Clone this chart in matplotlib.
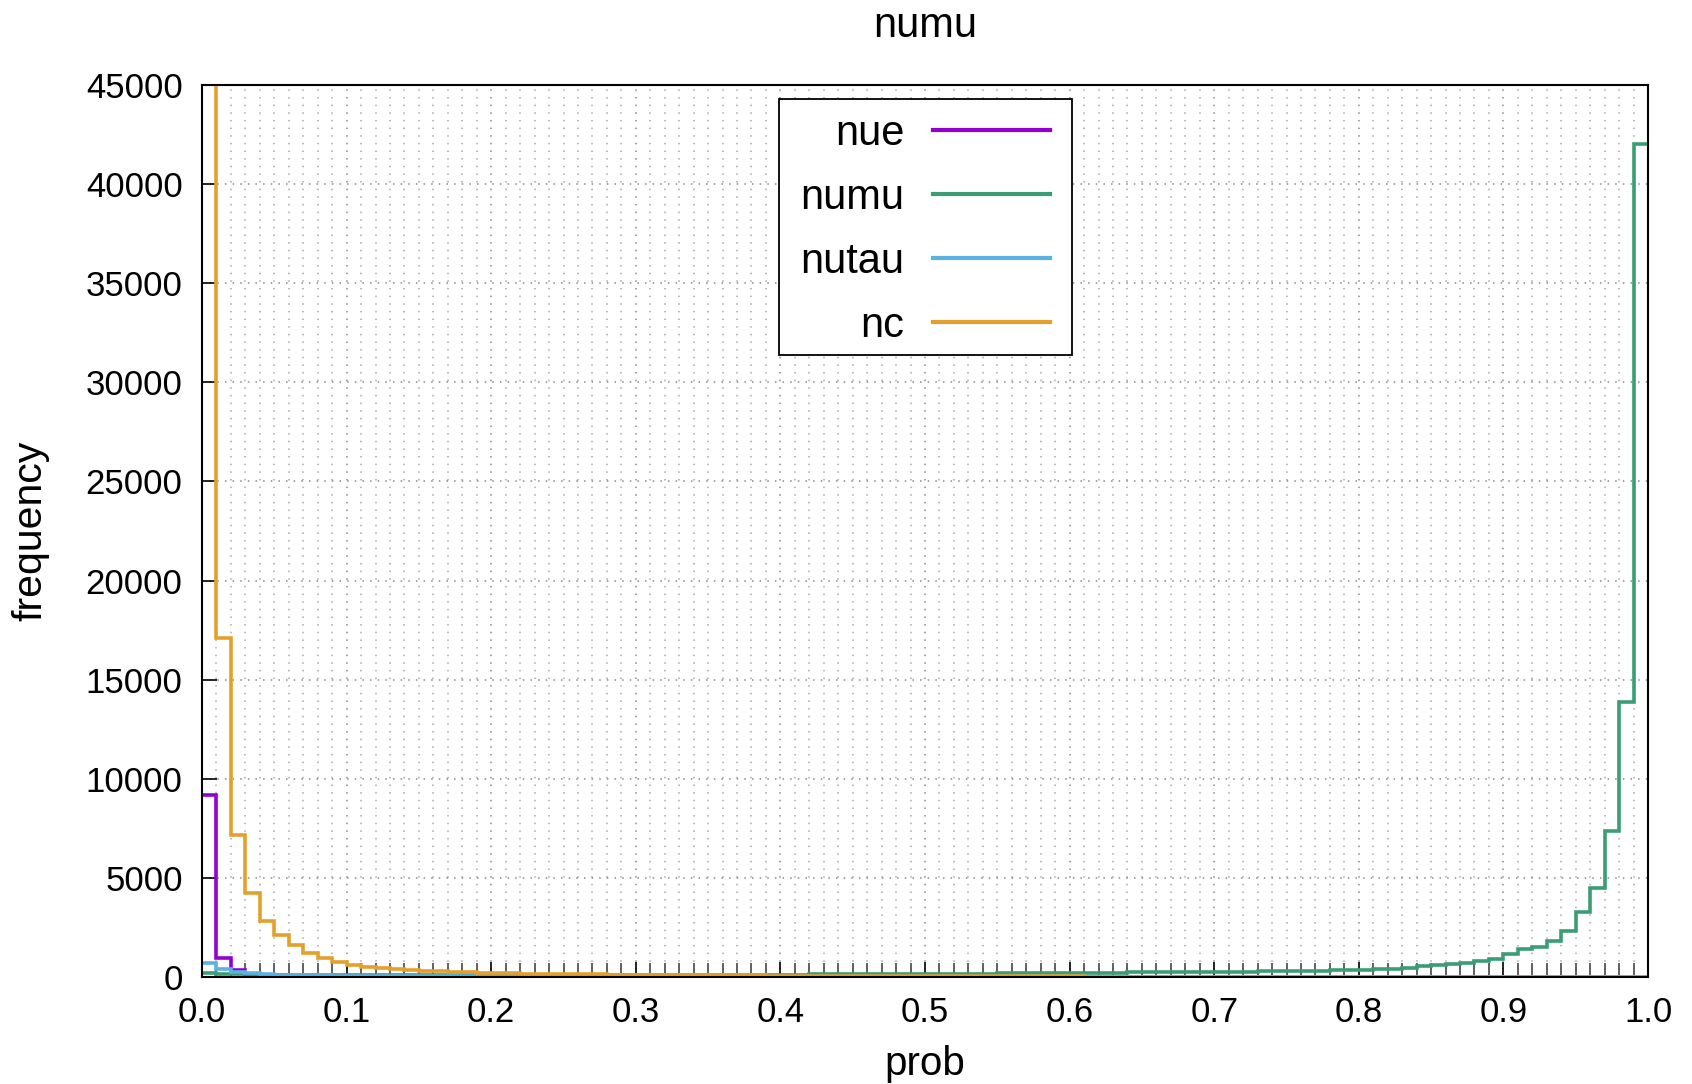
import numpy as np
import matplotlib
matplotlib.use("Agg")
import matplotlib.pyplot as plt
from matplotlib.ticker import MultipleLocator
from matplotlib.patches import Rectangle

plt.rcParams['font.family'] = ['Liberation Sans', 'DejaVu Sans']

# histogram bin edges (100 bins over prob 0..1)
edges = np.linspace(0.0, 1.0, 101)

# counts per bin
nue = [9200, 950, 330, 170, 110, 80, 60, 50, 40, 35,
       30, 28, 26, 24, 22, 20, 19, 18, 17, 16,
       15, 14, 13, 12, 12, 11, 11, 10, 10, 9,
       9, 8, 8, 8, 7, 7, 7, 6, 6, 6,
       6, 5, 5, 5, 5, 5, 4, 4, 4, 4,
       4, 4, 4, 4, 4, 3, 3, 3, 3, 3,
       3, 3, 3, 3, 3, 3, 3, 3, 3, 3,
       2, 2, 2, 2, 2, 2, 2, 2, 2, 2,
       2, 2, 2, 2, 2, 2, 2, 2, 2, 2,
       1, 1, 1, 1, 1, 1, 1, 1, 1, 1]

numu = [190, 160, 140, 130, 120, 115, 110, 108, 105, 103,
        100, 100, 98, 97, 96, 95, 95, 94, 94, 93,
        93, 93, 93, 94, 94, 95, 96, 97, 98, 100,
        102, 104, 106, 108, 110, 112, 114, 116, 118, 120,
        123, 126, 129, 132, 135, 138, 141, 145, 149, 153,
        157, 161, 165, 170, 175, 180, 185, 190, 196, 202,
        208, 214, 220, 227, 234, 241, 248, 256, 264, 272,
        255, 262, 270, 280, 290, 300, 310, 322, 335, 350,
        370, 385, 420, 460, 560, 625, 680, 710, 800, 930,
        1150, 1390, 1520, 1810, 2315, 3260, 4480, 7345, 13880, 42000]

nutau = [700, 420, 260, 190, 150, 120, 100, 90, 80, 70,
         65, 60, 55, 50, 46, 43, 40, 37, 35, 33,
         31, 29, 27, 25, 24, 23, 22, 21, 20, 19,
         18, 17, 16, 15, 15, 14, 13, 13, 12, 12,
         11, 11, 10, 10, 9, 9, 9, 8, 8, 8,
         7, 7, 7, 6, 6, 6, 6, 5, 5, 5,
         5, 5, 4, 4, 4, 4, 4, 3, 3, 3,
         3, 3, 3, 3, 2, 2, 2, 2, 2, 2,
         2, 2, 2, 2, 1, 1, 1, 1, 1, 1,
         1, 1, 1, 1, 1, 1, 1, 1, 1, 1]

nc = [60000, 17100, 7150, 4250, 2850, 2100, 1620, 1200, 950, 750,
      620, 530, 460, 400, 350, 310, 280, 250, 230, 210,
      200, 185, 170, 160, 150, 140, 135, 130, 125, 120,
      115, 110, 105, 100, 95, 90, 86, 82, 78, 75,
      72, 68, 65, 62, 59, 56, 53, 50, 48, 46,
      44, 42, 40, 38, 36, 34, 32, 30, 28, 27,
      26, 25, 24, 23, 22, 21, 20, 19, 18, 17,
      16, 15, 14, 13, 12, 11, 10, 10, 9, 9,
      8, 8, 7, 7, 6, 6, 5, 5, 5, 4,
      4, 4, 3, 3, 3, 2, 2, 2, 1, 1]

series = [("nue", nue, "#9400d3"),
          ("numu", numu, "#3a9e74"),
          ("nutau", nutau, "#5ab2e4"),
          ("nc", nc, "#e3a02c")]

fig = plt.figure(figsize=(16.92, 10.84), dpi=100)
ax = fig.add_axes([0.1194, 0.0987, 0.8546, 0.8229])

for name, vals, col in series:
    ax.stairs(vals, edges, baseline=None, color=col, lw=2.6, label=name)

ax.set_xlim(0, 1)
ax.set_ylim(0, 45000)
ax.xaxis.set_major_locator(MultipleLocator(0.1))
ax.xaxis.set_minor_locator(MultipleLocator(0.01))
ax.yaxis.set_major_locator(MultipleLocator(5000))
ax.xaxis.set_major_formatter(plt.FuncFormatter(lambda v, p: "%.1f" % v))

ax.grid(which='major', color='#8a8a8a', lw=1.1, ls=(0, (1, 4)))
ax.grid(which='minor', axis='x', color='#a8a8a8', lw=1.1, ls=(0, (1, 4)))
ax.set_axisbelow(True)

ax.tick_params(axis='both', which='major', direction='in', length=11, width=1.2,
               labelsize=25, top=False, right=False)
ax.tick_params(axis='y', which='major', pad=14)
ax.tick_params(axis='x', which='major', pad=14)
ax.tick_params(axis='x', which='minor', direction='in', length=10, width=1.3,
               color='#555555', top=False)
ax.tick_params(axis='y', which='minor', left=False, right=False)
for sp in ax.spines.values():
    sp.set_linewidth(1.5)

# title placed by hand at its baseline, centred over the axes
fig.text(0.1194 + 0.8546 / 2, 1 - 36.7 / 1084, "numu", fontsize=30,
         ha='center', va='baseline')
ax.set_xlabel("prob", fontsize=29, labelpad=11.5)
ax.set_ylabel("frequency", fontsize=29.5, labelpad=26)

# legend: labels on the left, right aligned, frame drawn by hand
leg = ax.legend(loc='upper center', bbox_to_anchor=(0.5, 0.968), markerfirst=False,
                fontsize=30, frameon=False, handlelength=2.8, labelspacing=0.58,
                borderpad=0.0, handletextpad=0.68, borderaxespad=0)
for line in leg.get_lines():
    line.set_linewidth(3.0)

fig.canvas.draw()
bb = leg.get_window_extent().transformed(ax.transAxes.inverted())
padx = 22 / (0.8546 * 1692)
pady_top = 14.5 / (0.8229 * 1084)
pady_bot = 8.5 / (0.8229 * 1084)
ax.add_patch(Rectangle((bb.x0 - padx, bb.y0 - pady_bot), bb.width + 2 * padx,
                       bb.height + pady_top + pady_bot, transform=ax.transAxes,
                       facecolor='white', edgecolor='black', lw=1.3, zorder=4))
leg.set_zorder(5)

fig.savefig("out.png", dpi=100)
